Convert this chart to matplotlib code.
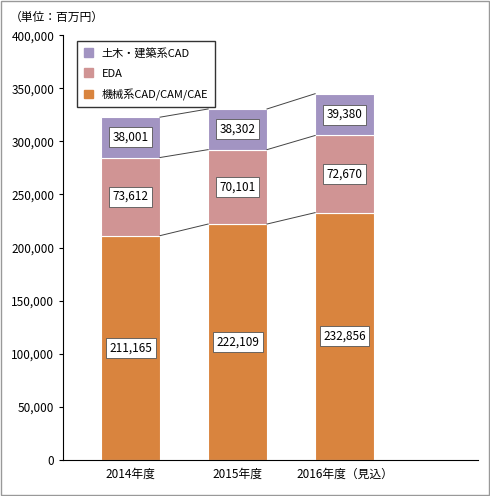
import matplotlib
matplotlib.use("Agg")
import matplotlib.pyplot as plt
from matplotlib.patches import Rectangle

plt.rcParams['font.family'] = ['Noto Sans CJK JP', 'DejaVu Sans']

categories = ["2014年度", "2015年度", "2016年度（見込）"]
mech = [211165, 222109, 232856]
eda = [73612, 70101, 72670]
civil = [38001, 38302, 39380]
series_names = ["機械系CAD/CAM/CAE", "EDA", "土木・建築系CAD"]
colors = ["#D9843E", "#D09494", "#A294C2"]

fig = plt.figure(figsize=(4.9, 4.96), dpi=100)
fig.patches.append(Rectangle((0.003, 0.003), 0.994, 0.994, transform=fig.transFigure,
                             fill=False, edgecolor="#999999", lw=1))
ax = fig.add_axes([0.129, 0.073, 0.847, 0.856])
x = list(range(len(categories)))
w = 0.55
bottoms = [0] * 3
tops_all = []
for vals, c in zip([mech, eda, civil], colors):
    ax.bar(x, vals, w, bottom=bottoms, color=c, edgecolor="white", lw=0.8, label=None)
    for i, v in enumerate(vals):
        ax.text(x[i], bottoms[i] + v / 2, f"{v:,}", ha="center", va="center", fontsize=8.5,
                bbox=dict(boxstyle="square,pad=0.3", fc="white", ec="#555555", lw=0.6))
    bottoms = [b + v for b, v in zip(bottoms, vals)]
    tops_all.append(list(bottoms))
for tops in tops_all:
    for i in range(2):
        ax.plot([x[i] + w / 2, x[i + 1] - w / 2], [tops[i], tops[i + 1]], color="#444444", lw=0.7)

ax.set_xlim(-0.63, 3.25)
ax.set_ylim(0, 400000)
ax.set_yticks(range(0, 400001, 50000))
ax.set_yticklabels([f"{v:,}" for v in range(0, 400001, 50000)], fontsize=8.5)
ax.set_xticks(x)
ax.set_xticklabels(categories, fontsize=8.5)
ax.tick_params(axis="x", length=0, pad=6)
ax.tick_params(axis="y", length=3)
for s in ["top", "right"]:
    ax.spines[s].set_visible(False)

handles = [Rectangle((0, 0), 1, 1, color=c) for c in colors][::-1]
ax.legend(handles, series_names[::-1], loc="upper left", bbox_to_anchor=(0.02, 1.0),
          fontsize=8, frameon=True, fancybox=False, edgecolor="black",
          handlelength=0.8, handleheight=0.8, labelspacing=0.9, borderpad=0.6)
fig.text(0.02, 0.965, "（単位：百万円）", fontsize=8.5, va="center")
fig.savefig("out.png", dpi=100)
